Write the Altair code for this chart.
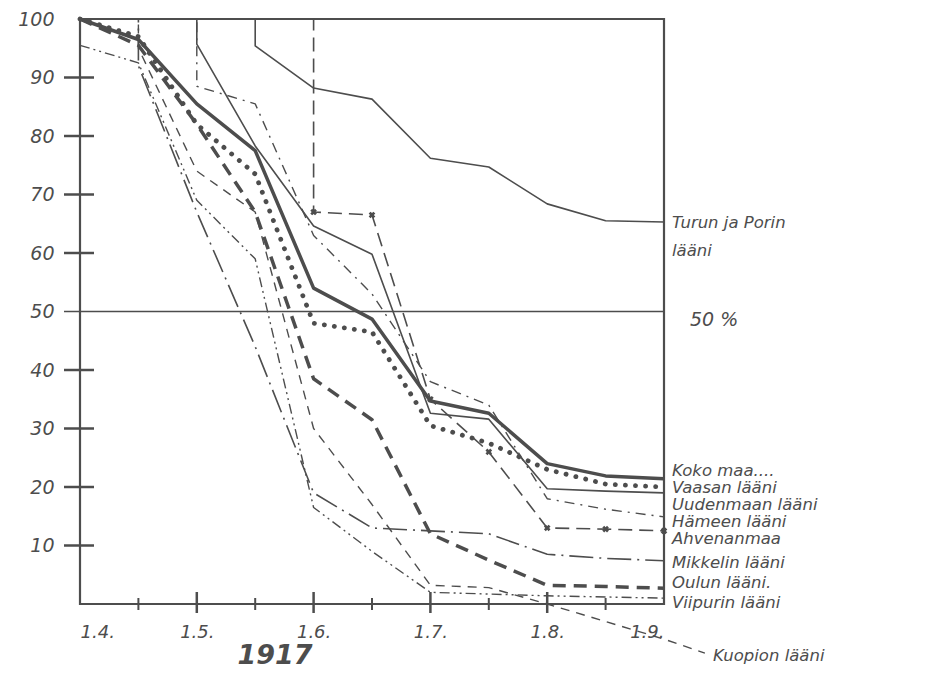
import altair as alt
import pandas as pd

# x = months after 1 April 1917 (0 = 1.4., 5 = 1.9.), y = per cent
MONTH_LABELS = ["1.4.", "1.5.", "1.6.", "1.7.", "1.8.", "1.9."]
Y_TICKS = [10, 20, 30, 40, 60, 70, 80, 90]
Y_LABELS = [10, 20, 30, 40, 50, 60, 70, 80, 90, 100]
FULL_TICKS = [1, 2, 3, 4]
HALF_TICKS = [0.5, 1.5, 2.5, 3.5, 4.5]

KOKO_MAA = [(0, 100), (0.5, 96.5), (1, 85.5), (1.5, 77.5), (2, 54), (2.5, 48.7),
            (3, 34.7), (3.5, 32.6), (4, 24), (4.5, 21.9), (5, 21.4)]
VAASAN = [(0, 100), (0.5, 97), (1, 82), (1.5, 73.5), (2, 48), (2.5, 46.5),
          (3, 30.5), (3.5, 27.5), (4, 23), (4.5, 20.5), (5, 20)]
UUDENMAAN = [(0, 100), (1, 100), (1, 95.7), (1.5, 78.3), (2, 64.6), (2.5, 59.8),
             (3, 32.6), (3.5, 31.6), (4, 19.7), (4.5, 19.3), (5, 19)]
HAMEEN = [(0, 100), (1, 100), (1, 88.5), (1.5, 85.5), (2, 63), (2.5, 53),
          (3, 38), (3.5, 34), (4, 18), (4.5, 16.2), (5, 14.9)]
AHVENANMAA = [(0, 100), (2, 100), (2, 67), (2.5, 66.5), (3, 35), (3.5, 26),
              (4, 13), (4.5, 12.8), (5, 12.5)]
MIKKELIN = [(0, 100), (0.5, 100), (0.5, 92), (1, 67), (1.5, 44), (2, 19), (2.5, 13),
            (3, 12.5), (3.5, 12), (4, 8.5), (4.5, 7.8), (5, 7.4)]
OULUN = [(0, 100), (0.5, 95.5), (1, 82), (1.5, 67), (2, 38.5), (2.5, 31.5),
         (3, 12), (3.5, 7.5), (4, 3.2), (4.5, 3), (5, 2.7)]
VIIPURIN = [(0, 95.5), (0.5, 92.5), (1, 69), (1.5, 59), (2, 16.5), (2.5, 9),
            (3, 2), (3.5, 1.7), (4, 1.4), (4.5, 1.2), (5, 1)]
KUOPION = [(0, 100), (0.5, 100), (0.5, 95), (1, 74), (1.5, 67), (2, 30), (2.5, 17),
           (3, 3.2), (3.5, 2.8), (4, 0), (5, -6), (5.35, -8.4)]
TURUN = [(0, 100), (1.5, 100), (1.5, 95.4), (2, 88.2), (2.5, 86.3), (3, 76.2),
         (3.5, 74.7), (4, 68.4), (4.5, 65.5), (5, 65.3)]

SERIES = [
    ("Koko maa", KOKO_MAA),
    ("Vaasan lääni", VAASAN),
    ("Uudenmaan lääni", UUDENMAAN),
    ("Hämeen lääni", HAMEEN),
    ("Ahvenanmaa", AHVENANMAA),
    ("Mikkelin lääni", MIKKELIN),
    ("Oulun lääni", OULUN),
    ("Viipurin lääni", VIIPURIN),
    ("Kuopion lääni", KUOPION),
    ("Turun ja Porin lääni", TURUN),
]

LABEL_TEXT = ["Koko maa....", "Vaasan lääni", "Uudenmaan lääni", "Hämeen lääni",
              "Ahvenanmaa", "Mikkelin lääni", "Oulun lääni.", "Viipurin lääni",
              "Kuopion lääni", "Turun ja Porin\nlääni"]
LABEL_T = [5, 5, 5, 5, 5, 5, 5, 5, 5.35, 5]
LABEL_V = [22.7, 19.8, 16.9, 14.0, 11.1, 7.0, 3.6, 0.2, -8.9, 65.2]

STYLE = {
    "Koko maa": dict(strokeWidth=3.5),
    "Vaasan lääni": dict(strokeWidth=4.8, strokeDash=[0.1, 10], strokeCap="round"),
    "Uudenmaan lääni": dict(strokeWidth=1.6),
    "Hämeen lääni": dict(strokeWidth=1.4, strokeDash=[10, 6, 2, 6]),
    "Ahvenanmaa": dict(strokeWidth=1.6, strokeDash=[14, 7]),
    "Mikkelin lääni": dict(strokeWidth=1.6, strokeDash=[24, 6, 2, 6]),
    "Oulun lääni": dict(strokeWidth=3.5, strokeDash=[13, 8]),
    "Viipurin lääni": dict(strokeWidth=1.4, strokeDash=[10, 4, 2, 4, 2, 4]),
    "Kuopion lääni": dict(strokeWidth=1.4, strokeDash=[9, 7]),
    "Turun ja Porin lääni": dict(strokeWidth=1.6),
}

INK = "#4d4d4d"
FONT = "DejaVu Sans"
W, H = 584, 585

rows = []
for name, pts in SERIES:
    for i, (t, v) in enumerate(pts):
        rows.append({"name": name, "t": t, "v": v, "i": i})
df = pd.DataFrame(rows)

label_df = pd.DataFrame({"label": LABEL_TEXT, "t": LABEL_T, "v": LABEL_V})

xscale = alt.Scale(domain=[0, 5], nice=False, zero=False)
yscale = alt.Scale(domain=[0, 100], nice=False, zero=False)

label_expr = "[" + ",".join("'%s'" % s for s in MONTH_LABELS) + "][round(datum.value)]"
x_enc = alt.X("t:Q", scale=xscale, title=None,
              axis=alt.Axis(values=list(range(6)), labelExpr=label_expr, ticks=False,
                            domain=False, grid=False, labelPadding=19, labelFontSize=18,
                            labelFont=FONT, labelFontStyle="italic", labelColor=INK))
y_enc = alt.Y("v:Q", scale=yscale, title=None,
              axis=alt.Axis(values=Y_LABELS, ticks=False, domain=False, grid=False,
                            labelPadding=26, labelFontSize=19, labelFont=FONT,
                            labelFontStyle="italic", labelColor=INK))

layers = []

# y-axis crossing ticks
ytick_df = pd.DataFrame({"v": Y_TICKS})
layers.append(alt.Chart(ytick_df).mark_rule(color=INK, strokeWidth=2.5).encode(
    y=alt.Y("v:Q", scale=yscale), x=alt.value(-16), x2=alt.value(14)))
# 50 % line
layers.append(alt.Chart(pd.DataFrame({"v": [50]})).mark_rule(color=INK, strokeWidth=1.6).encode(
    y=alt.Y("v:Q", scale=yscale), x=alt.value(-16), x2=alt.value(W)))
# x-axis ticks
layers.append(alt.Chart(pd.DataFrame({"t": FULL_TICKS})).mark_rule(color=INK, strokeWidth=2.5).encode(
    x=alt.X("t:Q", scale=xscale), y=alt.value(H - 12), y2=alt.value(H + 9)))
layers.append(alt.Chart(pd.DataFrame({"t": HALF_TICKS})).mark_rule(color=INK, strokeWidth=2).encode(
    x=alt.X("t:Q", scale=xscale), y=alt.value(H - 6), y2=alt.value(H + 6)))

for name, _ in SERIES:
    st = STYLE[name]
    layers.append(
        alt.Chart(df).transform_filter(alt.datum.name == name)
        .mark_line(color=INK, strokeJoin="round", **st)
        .encode(x=x_enc, y=y_enc, order="i:Q")
    )

# Ahvenanmaa x markers
layers.append(
    alt.Chart(df).transform_filter((alt.datum.name == "Ahvenanmaa") & (alt.datum.v < 100))
    .mark_point(shape="cross", angle=45, size=45, filled=True, color=INK, opacity=1)
    .encode(x=alt.X("t:Q", scale=xscale), y=alt.Y("v:Q", scale=yscale))
)

# series labels
layers.append(
    alt.Chart(label_df).mark_text(align="left", baseline="middle", dx=8, fontSize=16.5,
                                  font=FONT, fontStyle="italic", color=INK, lineBreak="\n",
                                  lineHeight=28)
    .encode(x=alt.X("t:Q", scale=xscale), y=alt.Y("v:Q", scale=yscale), text="label:N")
)
# 50 % text
layers.append(
    alt.Chart(pd.DataFrame({"t": [5], "v": [48.5], "s": ["50 %"]}))
    .mark_text(align="left", baseline="middle", dx=26, fontSize=19, font=FONT,
               fontStyle="italic", color=INK)
    .encode(x=alt.X("t:Q", scale=xscale), y=alt.Y("v:Q", scale=yscale), text="s:N")
)
# year
layers.append(
    alt.Chart(pd.DataFrame({"s": ["1917"]}))
    .mark_text(align="center", baseline="middle", fontSize=27, font=FONT,
               fontStyle="italic", fontWeight="bold", color=INK)
    .encode(x=alt.value(195), y=alt.value(637), text="s:N")
)

chart = alt.layer(*layers).properties(
    width=W, height=H,
    autosize=alt.AutoSizeParams(type="none"),
    padding={"left": 72, "top": 11, "right": 273, "bottom": 86},
    background="white",
).configure_view(stroke=INK, strokeWidth=2.2)

chart.save("out.html", embed_options={"renderer": "svg", "actions": False})
